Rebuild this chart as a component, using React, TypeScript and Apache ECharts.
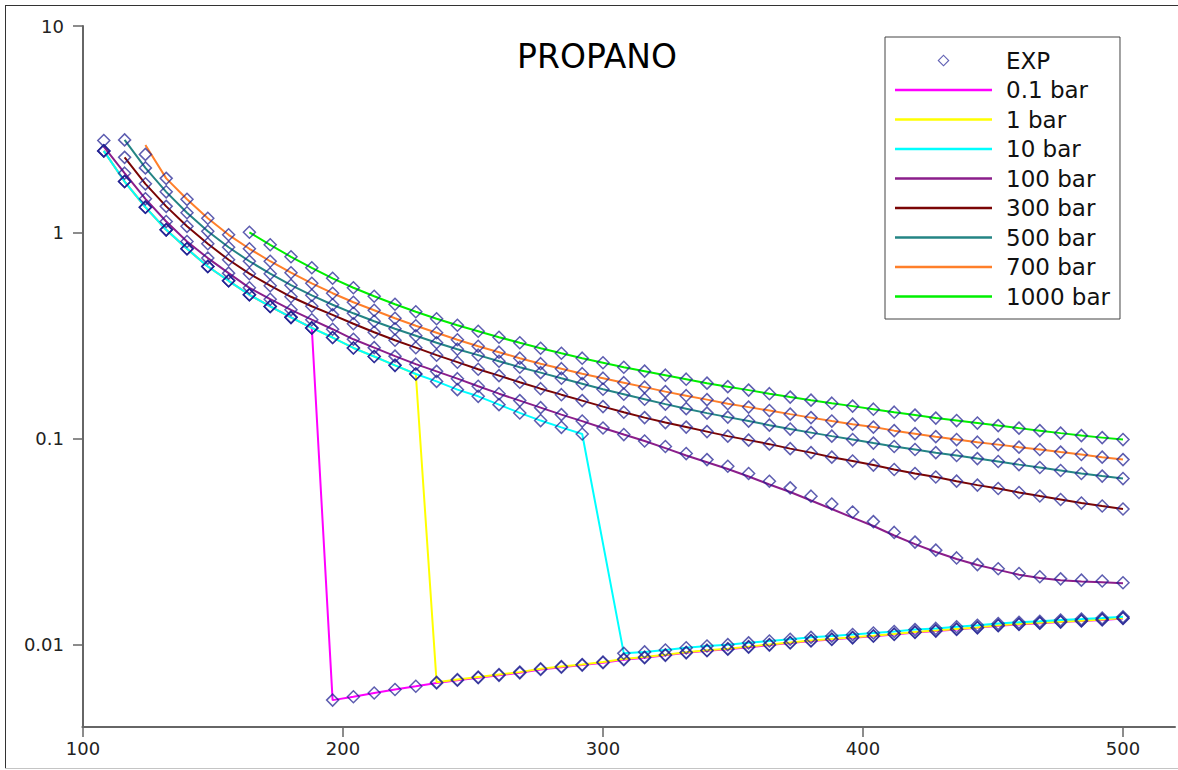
import React, { useEffect, useRef } from 'react';
import * as echarts from 'echarts';

// Temperature grid (K)
const temperatures = [108, 116, 124, 132, 140, 148, 156, 164, 172, 180, 188, 196, 204, 212, 220, 228, 236, 244, 252, 260, 268, 276, 284, 292, 300, 308, 316, 324, 332, 340, 348, 356, 364, 372, 380, 388, 396, 404, 412, 420, 428, 436, 444, 452, 460, 468, 476, 484, 492, 500];

// Viscosity values (model lines), aligned with temperatures; null = no point
const visc01bar = [2.481, 1.762, 1.324, 1.028, 0.832, 0.683, 0.582, 0.498, 0.437, 0.387, 0.344,
  0.0054, 0.00561, 0.00585, 0.00608, 0.0063, 0.00654, 0.00674, 0.00693, 0.00712, 0.00732, 0.0076, 0.0078, 0.00798, 0.0082, 0.00848, 0.00867, 0.0089, 0.00915, 0.00937, 0.00953, 0.00975, 0.00998, 0.01022, 0.01045, 0.01062, 0.01082, 0.01102, 0.01124, 0.0115, 0.01167, 0.01189, 0.0121, 0.01238, 0.01257, 0.01273, 0.0129, 0.01305, 0.01322, 0.01343];

const visc1bar = [2.481, 1.762, 1.324, 1.028, 0.832, 0.683, 0.582, 0.498, 0.437, 0.387, 0.344, 0.309, 0.275, 0.25, 0.2265, 0.2057,
  0.00659, 0.00679, 0.00698, 0.00718, 0.00738, 0.00766, 0.00786, 0.00804, 0.00826, 0.00854, 0.00873, 0.00896, 0.00921, 0.00943, 0.00959, 0.00981, 0.01004, 0.01028, 0.01051, 0.01068, 0.01088, 0.01108, 0.0113, 0.01156, 0.01173, 0.01195, 0.01216, 0.01244, 0.01263, 0.01279, 0.01296, 0.01311, 0.01328, 0.01349];

const visc10bar = [2.481, 1.762, 1.324, 1.028, 0.832, 0.683, 0.582, 0.498, 0.437, 0.387, 0.344, 0.309, 0.275, 0.25, 0.2265, 0.2057, 0.1894, 0.1727, 0.1603, 0.1461, 0.1332, 0.1223, 0.1134, 0.1053,
  null,
  0.0091, 0.00925, 0.00945, 0.00968, 0.00988, 0.01003, 0.01023, 0.01045, 0.01065, 0.01088, 0.01103, 0.01122, 0.01142, 0.01162, 0.01186, 0.01202, 0.01224, 0.01244, 0.0127, 0.01288, 0.01303, 0.0132, 0.01334, 0.0135, 0.0137];

const visc100bar = [2.603, 1.935, 1.453, 1.128, 0.902, 0.75, 0.634, 0.538, 0.474, 0.421, 0.377, 0.339, 0.303, 0.276, 0.251, 0.2295, 0.2118, 0.1952, 0.1795, 0.1651, 0.1528, 0.1413, 0.1307, 0.1216, 0.1126, 0.1046, 0.0973, 0.0899, 0.0828, 0.0768, 0.0712, 0.0655, 0.0599, 0.0551, 0.0501, 0.0456, 0.0414, 0.0377, 0.0339, 0.0308, 0.0282, 0.0261, 0.0244, 0.0231, 0.0219, 0.0211, 0.0206, 0.0203, 0.0201, 0.0199];

const visc300bar = [null, 2.308, 1.718, 1.336, 1.069, 0.88, 0.736, 0.63, 0.551, 0.487, 0.438, 0.398, 0.3603, 0.3279, 0.2999, 0.2759, 0.2538, 0.2347, 0.217, 0.2019, 0.1877, 0.1746, 0.1633, 0.1528, 0.1429, 0.1343, 0.1264, 0.1196, 0.1137, 0.1081, 0.1028, 0.0983, 0.094, 0.0894, 0.0855, 0.0813, 0.0778, 0.0744, 0.0708, 0.0677, 0.0651, 0.0622, 0.0595, 0.0573, 0.0548, 0.0527, 0.0507, 0.0487, 0.0471, 0.0456];

const visc500bar = [null, 2.805, 2.052, 1.571, 1.243, 1.011, 0.846, 0.724, 0.63, 0.554, 0.495, 0.4456, 0.4049, 0.3707, 0.3409, 0.3152, 0.2915, 0.2713, 0.2538, 0.2372, 0.2219, 0.2088, 0.1963, 0.1846, 0.1736, 0.1642, 0.1553, 0.1469, 0.1397, 0.1329, 0.1271, 0.1216, 0.1162, 0.1112, 0.1069, 0.1028, 0.0989, 0.0951, 0.0915, 0.0885, 0.0855, 0.0828, 0.08, 0.0774, 0.0748, 0.0724, 0.07, 0.0677, 0.0658, 0.064];

const visc700bar = [null, null, 2.652, 1.826, 1.445, 1.169, 0.9725, 0.832, 0.724, 0.637, 0.566, 0.5067, 0.4581, 0.4192, 0.3834, 0.3524, 0.3261, 0.3016, 0.2805, 0.2624, 0.2454, 0.2308, 0.2183, 0.2064, 0.1963, 0.1867, 0.1776, 0.1689, 0.1615, 0.1545, 0.1477, 0.1421, 0.1367, 0.1314, 0.1264, 0.1216, 0.1175, 0.1137, 0.1093, 0.1057, 0.1022, 0.0989, 0.0961, 0.0935, 0.0909, 0.0885, 0.086, 0.0837, 0.0813, 0.0791];

const visc1000bar = [null, null, null, null, null, null, null, 1.0, 0.87, 0.761, 0.673, 0.5985, 0.5387, 0.4899, 0.448, 0.4121, 0.3813, 0.3544, 0.3316, 0.3101, 0.2915, 0.2743, 0.2594, 0.2454, 0.2333, 0.2219, 0.2123, 0.203, 0.1941, 0.1857, 0.1786, 0.1718, 0.1651, 0.1589, 0.1536, 0.1485, 0.1437, 0.1389, 0.1343, 0.13, 0.1257, 0.1223, 0.1189, 0.1156, 0.1124, 0.1093, 0.1063, 0.1034, 0.1011, 0.0989];

// Experimental points that differ visibly from the model lines
const exp100bar = [2.784, 1.935, 1.453, 1.128, 0.902, 0.75, 0.634, 0.538, 0.474, 0.421, 0.377, 0.339, 0.303, 0.276, 0.251, 0.2295, 0.2118, 0.1952, 0.1795, 0.1651, 0.1528, 0.1413, 0.1307, 0.1216, 0.1126, 0.1046, 0.0973, 0.0915, 0.0846, 0.0791, 0.0734, 0.0677, 0.0621, 0.0577, 0.0526, 0.0482, 0.0441, 0.0396, 0.0351, 0.0315, 0.0288, 0.0264, 0.0245, 0.0234, 0.0222, 0.0214, 0.0209, 0.0206, 0.0204, 0.02];

const exp700bar = [null, null, 2.386, 1.826, 1.445, 1.169, 0.9725, 0.832, 0.724, 0.637, 0.566, 0.5067, 0.4581, 0.4192, 0.3834, 0.3524, 0.3261, 0.3016, 0.2805, 0.2624, 0.2454, 0.2308, 0.2183, 0.2064, 0.1963, 0.1867, 0.1776, 0.1689, 0.1615, 0.1545, 0.1477, 0.1421, 0.1367, 0.1314, 0.1264, 0.1216, 0.1175, 0.1137, 0.1093, 0.1057, 0.1022, 0.0989, 0.0961, 0.0935, 0.0909, 0.0885, 0.086, 0.0837, 0.0813, 0.0791];

const pressureNames = ['0.1 bar', '1 bar', '10 bar', '100 bar', '300 bar', '500 bar', '700 bar', '1000 bar'];
const modelSets = [visc01bar, visc1bar, visc10bar, visc100bar, visc300bar, visc500bar, visc700bar, visc1000bar];
const expSets = [visc01bar, visc1bar, visc10bar, exp100bar, visc300bar, visc500bar, exp700bar, visc1000bar];
const lineColors = ['#ff00ff', '#ffff00', '#00ffff', '#8b1e8b', '#7a0505', '#248585', '#ff7f2a', '#00f000'];

const xTicks = [100, 200, 300, 400, 500];
const yTicks = [0.01, 0.1, 1, 10];

const LINE_ICON = 'path://M0,0H100V2.6H0Z';
const DIAMOND_ICON = 'path://M6,0L12,6L6,12L0,6ZM6,1.6L1.6,6L6,10.4L10.4,6Z';

function toPairs(vals: (number | null)[]) {
  const out: [number, number][] = [];
  temperatures.forEach((t, i) => {
    const v = vals[i];
    if (v !== null && v !== undefined) out.push([t, v]);
  });
  return out;
}

export default function App() {
  const ref = useRef<HTMLDivElement>(null);

  useEffect(() => {
    if (!ref.current) return;
    const chart = echarts.init(ref.current, null, { renderer: 'svg' });
    const font = 'DejaVu Sans';
    const expData: [number, number][] = [];
    expSets.forEach((s) => toPairs(s).forEach((p) => expData.push(p)));

    const lineSeries = pressureNames.map((name, k) => ({
      name,
      type: 'line',
      data: toPairs(modelSets[k]),
      symbol: 'none',
      showSymbol: false,
      smooth: false,
      lineStyle: { width: 2, color: lineColors[k] },
      itemStyle: { color: lineColors[k] },
      z: 2,
    }));

    const option: any = {
      animation: false,
      textStyle: { fontFamily: font },
      grid: { left: 83, top: 26, right: 3, bottom: 43, containLabel: false, outerBoundsMode: 'none' },
      xAxis: {
        type: 'value',
        min: 100,
        max: 520,
        interval: 100,
        axisLine: { show: true, onZero: false, lineStyle: { color: '#666', width: 2 } },
        axisTick: { show: true, length: 10, customValues: xTicks, lineStyle: { color: '#666', width: 1.5 } },
        axisLabel: { customValues: xTicks, margin: 12, fontSize: 18, fontFamily: font, color: '#222' },
        splitLine: { show: false },
      },
      yAxis: {
        type: 'log',
        logBase: 10,
        min: 0.004,
        max: 10,
        axisLine: { show: true, onZero: false, lineStyle: { color: '#666', width: 2 } },
        axisTick: { show: true, length: 10, lineStyle: { color: '#666', width: 1.5 } },
        axisLabel: {
          margin: 19,
          fontSize: 18,
          fontFamily: font,
          color: '#222',
          formatter: (v: number) => {
            const t = yTicks.find((y) => Math.abs(y - v) / y < 1e-6);
            return t === undefined ? '' : String(t);
          },
        },
        splitLine: { show: false },
        minorTick: { show: false },
      },
      legend: {
        orient: 'vertical',
        left: 885,
        top: 37,
        padding: [12, 10, 11, 10],
        itemWidth: 97,
        itemHeight: 12,
        itemGap: 6.5,
        backgroundColor: '#fff',
        borderColor: '#444',
        borderWidth: 1,
        textStyle: { fontSize: 23, fontFamily: font, color: '#111', lineHeight: 23, padding: [0, 0, 0, 9] },
        data: [
          { name: 'EXP', icon: DIAMOND_ICON, itemStyle: { color: '#3a3aa0', borderWidth: 0 } },
          ...pressureNames.map((n) => ({ name: n, icon: LINE_ICON })),
        ],
      },
      graphic: [
        { type: 'line', shape: { x1: 5.5, y1: 5, x2: 5.5, y2: 768 }, style: { stroke: '#333', lineWidth: 1 }, silent: true },
        { type: 'line', shape: { x1: 5, y1: 5.5, x2: 1178, y2: 5.5 }, style: { stroke: '#333', lineWidth: 1 }, silent: true },
        { type: 'line', shape: { x1: 5, y1: 768.5, x2: 1178, y2: 768.5 }, style: { stroke: '#c4c4c4', lineWidth: 1 }, silent: true },
        { type: 'rect', shape: { x: 70, y: 725, width: 11.5, height: 5 }, style: { fill: '#fff' }, silent: true, z: 100 },
        {
          type: 'text',
          x: 597,
          y: 56,
          style: { text: 'PROPANO', fontSize: 33, fontFamily: font, fill: '#000', align: 'center', verticalAlign: 'middle' },
          silent: true,
        },
      ],
      series: [
        ...lineSeries,
        {
          name: 'EXP',
          type: 'scatter',
          data: expData,
          symbol: 'diamond',
          symbolSize: 12,
          itemStyle: { color: 'transparent', borderColor: 'rgba(30,30,145,0.9)', borderWidth: 1.5 },
          z: 5,
        },
      ],
    };
    chart.setOption(option);
    return () => chart.dispose();
  }, []);

  return <div ref={ref} style={{ position: 'absolute', left: 0, top: 0, width: 1178, height: 770 }} />;
}
